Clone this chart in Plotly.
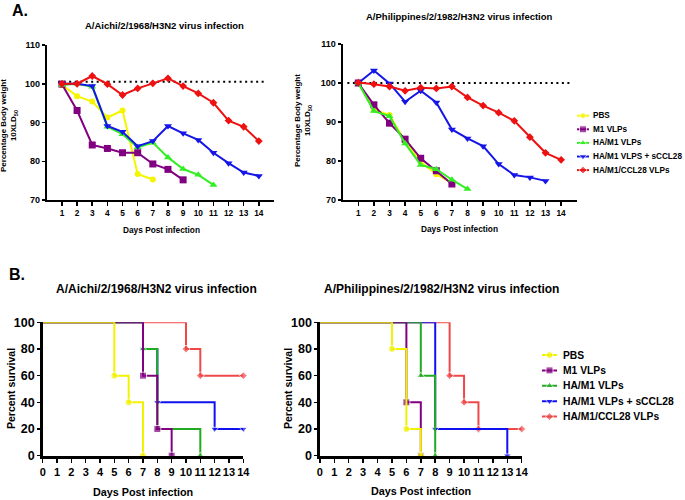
import plotly.graph_objects as go

# ---------------- DATA ----------------
series_names_a = ["PBS", "M1 VLPs", "HA/M1 VLPs", "HA/M1 VLPS + sCCL28", "HA/M1/CCL28 VLPs"]
series_names_b = ["PBS", "M1 VLPs", "HA/M1 VLPs", "HA/M1 VLPs + sCCL28", "HA/M1/CCL28 VLPs"]
days = list(range(1, 15))
day_ticks_a = list(range(1, 15))
day_ticks_b = list(range(0, 15))
weight_ticks = [70, 80, 90, 100, 110]
survival_ticks = [0, 20, 40, 60, 80, 100]

title_aichi = "A/Aichi/2/1968/H3N2 virus infection"
title_phil = "A/Philippines/2/1982/H3N2 virus infection"

# Panel A1 (Aichi) body weight %
a1_pbs = [99.7, 96.8, 95.4, 91.3, 93.1, 76.7, 75.3]
a1_m1 = [99.9, 93.1, 84.2, 83.3, 82.2, 82.2, 79.3, 77.9, 75.2]
a1_ham1 = [99.7, 100.0, 99.2, 88.9, 87.0, 83.6, 84.8, 81.0, 78.0, 76.5, 73.9]
a1_sccl = [100.0, 100.0, 99.4, 89.1, 87.6, 83.9, 85.2, 89.1, 87.2, 85.5, 82.2, 79.5, 77.1, 76.2]
a1_ccl = [100.0, 100.0, 102.0, 99.9, 97.1, 98.8, 100.1, 101.4, 99.4, 97.5, 95.1, 90.5, 88.9, 85.2]
a1_baseline = 100.5
a1_baseline_x = [0.75, 14.5]

# Panel A2 (Philippines) body weight %
a2_pbs = [100.0, 93.2, 91.8, 85.0, 79.8, 76.6, 74.3]
a2_m1 = [100.0, 94.4, 89.7, 85.6, 80.7, 77.5, 74.1]
a2_ham1 = [100.0, 92.8, 91.5, 84.5, 79.0, 77.9, 75.2, 72.8]
a2_sccl = [100.0, 103.2, 99.9, 95.2, 98.0, 95.0, 88.1, 85.8, 83.8, 79.2, 76.4, 75.8, 74.9]
a2_ccl = [100.1, 99.7, 99.1, 98.0, 98.8, 98.6, 99.1, 96.3, 94.2, 92.4, 90.3, 86.1, 82.1, 80.3]
a2_baseline = 100.0
a2_baseline_x = [0.3, 14.6]

# Panel B1 (Aichi) survival: event days and percent survival
b1_pbs_t, b1_pbs_s = [0, 5, 6, 7], [100, 60, 40, 0]
b1_m1_t, b1_m1_s = [0, 7, 8, 9], [100, 60, 20, 0]
b1_ham1_t, b1_ham1_s = [0, 7, 8, 11], [100, 80, 20, 0]
b1_sccl_t, b1_sccl_s = [0, 7, 8, 12, 14], [100, 80, 40, 20, 20]
b1_ccl_t, b1_ccl_s = [0, 10, 11, 14], [100, 80, 60, 60]

# Panel B2 (Philippines) survival
b2_pbs_t, b2_pbs_s = [0, 5, 6, 7], [100, 80, 20, 0]
b2_m1_t, b2_m1_s = [0, 6, 7], [100, 40, 0]
b2_ham1_t, b2_ham1_s = [0, 7, 8], [100, 60, 0]
b2_sccl_t, b2_sccl_s = [0, 8, 13], [100, 20, 0]
b2_ccl_t, b2_ccl_s = [0, 9, 10, 11, 14], [100, 60, 40, 20, 20]

# ---------------- STYLE ----------------
W, H = 685, 500
FONT = "Liberation Sans, Arial, sans-serif"
symbols = ["circle", "square", "triangle-up", "triangle-down", "diamond"]
colors_a = ["#F5F500", "#800080", "#33EE22", "#1515E8", "#EE1111"]
colors_b = ["#F2F200", "#800080", "#22AA22", "#1010F0", "#F04848"]
msize_a = [6, 7, 7, 7, 6]
msize_b = [7, 7, 7, 7, 6]


def px(x):
    return x / W


def py(y):
    return 1 - y / H


fig = go.Figure()

# ---- Panel A traces ----
for (xa, ya, sets, base, bx) in [
    ("x", "y", [a1_pbs, a1_m1, a1_ham1, a1_sccl, a1_ccl], a1_baseline, a1_baseline_x),
    ("x2", "y2", [a2_pbs, a2_m1, a2_ham1, a2_sccl, a2_ccl], a2_baseline, a2_baseline_x),
]:
    fig.add_trace(go.Scatter(
        x=bx, y=[base, base], mode="lines", xaxis=xa, yaxis=ya,
        line=dict(color="black", width=2, dash="2px,3.5px"), showlegend=False,
        hoverinfo="skip"))
    for i, vals in enumerate(sets):
        fig.add_trace(go.Scatter(
            x=days[:len(vals)], y=vals, mode="lines+markers", xaxis=xa, yaxis=ya,
            name=series_names_a[i], showlegend=False, cliponaxis=False,
            line=dict(color=colors_a[i], width=2),
            marker=dict(symbol=symbols[i], size=msize_a[i], color=colors_a[i])))

# ---- Panel B traces (drawn red first so yellow is on top) ----
for (xa, ya, sets) in [
    ("x3", "y3", [(b1_pbs_t, b1_pbs_s), (b1_m1_t, b1_m1_s), (b1_ham1_t, b1_ham1_s),
                  (b1_sccl_t, b1_sccl_s), (b1_ccl_t, b1_ccl_s)]),
    ("x4", "y4", [(b2_pbs_t, b2_pbs_s), (b2_m1_t, b2_m1_s), (b2_ham1_t, b2_ham1_s),
                  (b2_sccl_t, b2_sccl_s), (b2_ccl_t, b2_ccl_s)]),
]:
    for i in reversed(range(5)):
        t, s = sets[i]
        sizes = [0] + [msize_b[i]] * (len(t) - 1)
        fig.add_trace(go.Scatter(
            x=t, y=s, mode="lines+markers", xaxis=xa, yaxis=ya,
            name=series_names_b[i], showlegend=False, cliponaxis=False,
            line=dict(color=colors_b[i], width=2, shape="hv"),
            marker=dict(symbol=symbols[i], size=sizes, color=colors_b[i])))

# ---- Legend swatches (hidden axes) ----
for (xa, ya, cols, names, sizes) in [
    ("x5", "y5", colors_a, series_names_a, msize_a),
    ("x6", "y6", colors_b, series_names_b, msize_b),
]:
    for i in range(5):
        fig.add_trace(go.Scatter(
            x=[0, 0.5, 1], y=[i, i, i], mode="lines+markers", xaxis=xa, yaxis=ya,
            showlegend=False, cliponaxis=False, hoverinfo="skip",
            line=dict(color=cols[i], width=2),
            marker=dict(symbol=symbols[i], size=[0, sizes[i], 0], color=cols[i])))


# ---- Axes ----
def xax(domain, rng, ticks, anchor, fsize, lw):
    return dict(domain=domain, range=rng, tickvals=ticks, anchor=anchor, automargin=False,
                showline=True, linecolor="black", linewidth=lw, ticks="outside",
                ticklen=4, tickwidth=1.5, tickcolor="black", showgrid=False, tickangle=0,
                zeroline=False, tickfont=dict(family=FONT, size=fsize, color="black", weight="bold"))


def yax(domain, rng, ticks, anchor, fsize, lw):
    return dict(domain=domain, range=rng, tickvals=ticks, anchor=anchor, automargin=False,
                showline=True, linecolor="black", linewidth=lw, ticks="outside",
                ticklen=3, tickwidth=1.5, tickcolor="black", showgrid=False, tickangle=0,
                zeroline=False, tickfont=dict(family=FONT, size=fsize, color="black", weight="bold"))


hidden = dict(visible=False, showgrid=False, zeroline=False, automargin=False)

layout = dict(
    template="none",
    width=W, height=H, margin=dict(l=0, r=0, t=0, b=0, pad=0), autosize=False,
    paper_bgcolor="white", plot_bgcolor="white", showlegend=False, hovermode=False,
    font=dict(family=FONT, color="black"),
    xaxis=xax([px(46.8), px(274)], [0, 15], day_ticks_a, "y", 8.3, 2),
    yaxis=yax([py(200), py(45)], [70, 110], weight_ticks, "x", 9, 2),
    xaxis2=xax([px(342.7), px(576.7)], [0, 15], day_ticks_a, "y2", 8.3, 2),
    yaxis2=yax([py(200), py(44)], [70, 110], weight_ticks, "x2", 9, 2),
    xaxis3=xax([px(42.7), px(243.3)], [0, 14], day_ticks_b, "y3", 11, 3),
    yaxis3=yax([py(455.7), py(322.3)], [0, 100], survival_ticks, "x3", 12.5, 2.5),
    xaxis4=xax([px(319.9), px(521.7)], [0, 14], day_ticks_b, "y4", 11, 3),
    yaxis4=yax([py(455.7), py(322.3)], [0, 100], survival_ticks, "x4", 12.5, 2.5),
    xaxis5=dict(domain=[px(577), px(589)], range=[0, 1], anchor="y5", **hidden),
    yaxis5=dict(domain=[py(108.9 + 5 * 13.6), py(108.9)], range=[4.5, -0.5], anchor="x5", **hidden),
    xaxis6=dict(domain=[px(542), px(557)], range=[0, 1], anchor="y6", **hidden),
    yaxis6=dict(domain=[py(347.3 + 5 * 15.4), py(347.3)], range=[4.5, -0.5], anchor="x6", **hidden),
)
fig.update_layout(**layout)

# ---- Text annotations ----
ann = []


def text(x, y, s, size, angle=0, xanchor="center"):
    ann.append(dict(x=px(x), y=py(y), xref="paper", yref="paper", text=s, showarrow=False,
                    xanchor=xanchor, yanchor="middle", textangle=angle, borderpad=0,
                    font=dict(family=FONT, size=size, color="black", weight="bold")))


text(20, 10, "A.", 16)
text(17, 274, "B.", 16)
text(164, 25, title_aichi, 9.5)
text(460, 16, title_phil, 9.5)
text(161, 230, "Days Post infection", 8.3)
text(460, 229, "Days Post infection", 8.3)
text(9, 126, "Percentage Body weight<br>10XLD<sub>50</sub>", 8, angle=-90)
text(303, 121, "Percentage Body weight<br>10XLD<sub>50</sub>", 8, angle=-90)
text(156, 289, title_aichi, 12)
text(441, 289, title_phil, 12)
text(142.5, 492, "Days Post infection", 10.8)
text(421, 491, "Days Post infection", 10.8)
text(11, 389, "Percent survival", 10.5, angle=-90)
text(288, 389, "Percent survival", 10.5, angle=-90)
for i in range(5):
    text(592, 115.7 + i * 13.6, series_names_a[i], 8.2, xanchor="left")
    text(562, 355 + i * 15.4, series_names_b[i], 10.3, xanchor="left")
fig.update_layout(annotations=ann)

fig.write_html(
    "out.html",
    config={"displayModeBar": False, "staticPlot": True},
    post_script="document.body.style.margin='0';document.body.style.overflow='hidden';",
)
